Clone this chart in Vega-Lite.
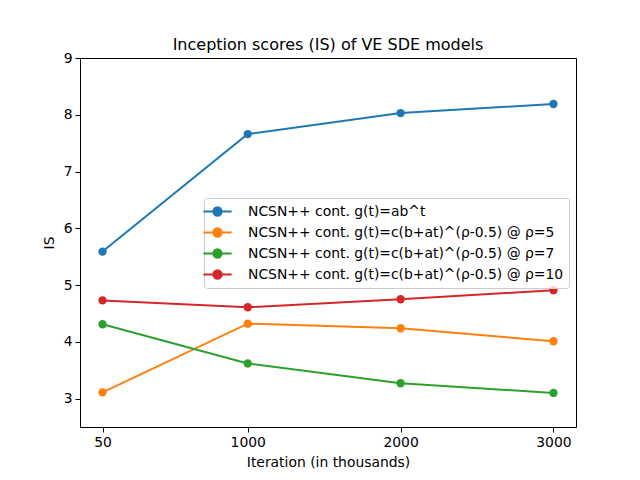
{
  "$schema": "https://vega.github.io/schema/vega-lite/v6.json",
  "width": 496,
  "height": 369,
  "autosize": {"type": "none"},
  "padding": {"left": 80, "top": 58, "right": 64, "bottom": 53},
  "background": "white",
  "title": {"text": "Inception scores (IS) of VE SDE models", "font": "DejaVu Sans", "fontSize": 16, "fontWeight": "normal", "color": "black", "offset": -2},
  "config": {
    "view": {"stroke": "black", "strokeWidth": 1},
    "font": "DejaVu Sans"
  },
  "data": {"values": [
    {"iter": 50, "IS": 5.59, "series": "NCSN++ cont. g(t)=ab^t"},
    {"iter": 1000, "IS": 7.66, "series": "NCSN++ cont. g(t)=ab^t"},
    {"iter": 2000, "IS": 8.03, "series": "NCSN++ cont. g(t)=ab^t"},
    {"iter": 3000, "IS": 8.19, "series": "NCSN++ cont. g(t)=ab^t"},
    {"iter": 50, "IS": 3.11, "series": "NCSN++ cont. g(t)=c(b+at)^(ρ-0.5) @ ρ=5"},
    {"iter": 1000, "IS": 4.32, "series": "NCSN++ cont. g(t)=c(b+at)^(ρ-0.5) @ ρ=5"},
    {"iter": 2000, "IS": 4.24, "series": "NCSN++ cont. g(t)=c(b+at)^(ρ-0.5) @ ρ=5"},
    {"iter": 3000, "IS": 4.01, "series": "NCSN++ cont. g(t)=c(b+at)^(ρ-0.5) @ ρ=5"},
    {"iter": 50, "IS": 4.31, "series": "NCSN++ cont. g(t)=c(b+at)^(ρ-0.5) @ ρ=7"},
    {"iter": 1000, "IS": 3.62, "series": "NCSN++ cont. g(t)=c(b+at)^(ρ-0.5) @ ρ=7"},
    {"iter": 2000, "IS": 3.27, "series": "NCSN++ cont. g(t)=c(b+at)^(ρ-0.5) @ ρ=7"},
    {"iter": 3000, "IS": 3.1, "series": "NCSN++ cont. g(t)=c(b+at)^(ρ-0.5) @ ρ=7"},
    {"iter": 50, "IS": 4.73, "series": "NCSN++ cont. g(t)=c(b+at)^(ρ-0.5) @ ρ=10"},
    {"iter": 1000, "IS": 4.61, "series": "NCSN++ cont. g(t)=c(b+at)^(ρ-0.5) @ ρ=10"},
    {"iter": 2000, "IS": 4.75, "series": "NCSN++ cont. g(t)=c(b+at)^(ρ-0.5) @ ρ=10"},
    {"iter": 3000, "IS": 4.91, "series": "NCSN++ cont. g(t)=c(b+at)^(ρ-0.5) @ ρ=10"}
  ]},
  "mark": {"type": "line", "strokeWidth": 2, "point": {"filled": true, "size": 70, "opacity": 1}},
  "encoding": {
    "x": {"field": "iter", "type": "quantitative",
      "scale": {"domain": [-97.5, 3147.5], "nice": false, "zero": false},
      "axis": {"values": [50, 1000, 2000, 3000], "format": "d", "title": "Iteration (in thousands)", "grid": false,
        "domain": false, "tickColor": "black", "tickSize": 5, "labelColor": "black", "labelFontSize": 13.9,
        "labelFont": "DejaVu Sans", "titleFont": "DejaVu Sans", "titleFontSize": 13.9, "titleFontWeight": "normal",
        "titleColor": "black", "labelPadding": 3, "titlePadding": 7, "labelFlush": false}},
    "y": {"field": "IS", "type": "quantitative",
      "scale": {"domain": [2.5, 9], "nice": false, "zero": false},
      "axis": {"values": [3, 4, 5, 6, 7, 8, 9], "title": "IS", "grid": false,
        "domain": false, "tickColor": "black", "tickSize": 5, "labelColor": "black", "labelFontSize": 13.9,
        "labelFont": "DejaVu Sans", "titleFont": "DejaVu Sans", "titleFontSize": 13.9, "titleFontWeight": "normal",
        "titleColor": "black", "labelPadding": 3, "titlePadding": 7}},
    "color": {"field": "series", "type": "nominal",
      "scale": {"domain": ["NCSN++ cont. g(t)=ab^t", "NCSN++ cont. g(t)=c(b+at)^(ρ-0.5) @ ρ=5", "NCSN++ cont. g(t)=c(b+at)^(ρ-0.5) @ ρ=7", "NCSN++ cont. g(t)=c(b+at)^(ρ-0.5) @ ρ=10"],
        "range": ["#1f77b4", "#ff7f0e", "#2ca02c", "#d62728"]},
      "legend": {"title": null, "orient": "none", "legendX": 124, "legendY": 140,
        "symbolType": "M-2,0H2M-0.59,0A0.59,0.59,0,1,1,0.59,0A0.59,0.59,0,1,1,-0.59,0Z",
        "symbolSize": 200, "symbolStrokeWidth": 2, "symbolFillColor": null,
        "labelFont": "DejaVu Sans", "labelFontSize": 13.9, "labelColor": "black", "labelLimit": 0,
        "padding": 5, "rowPadding": 4, "labelOffset": 22,
        "strokeColor": "#cccccc", "fillColor": "rgba(255,255,255,0.8)", "cornerRadius": 3}}
  }
}
